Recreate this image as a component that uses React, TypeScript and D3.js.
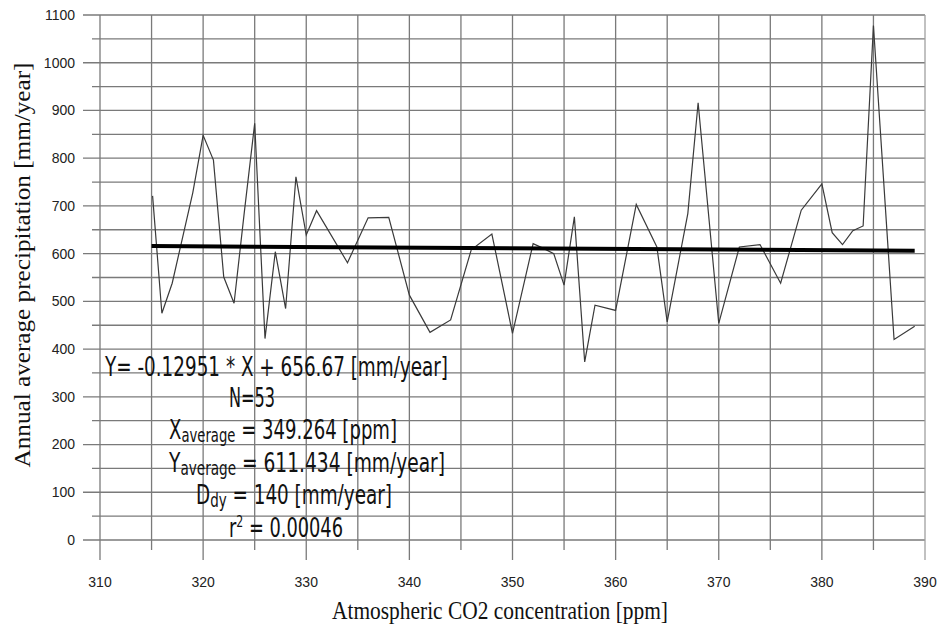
import React from "react";
import * as d3 from "d3";

// Data
const co2 = [
  315.1, 316.0, 317.0, 319.0, 320.0, 321.0, 322.0, 323.0, 324.0, 325.0,
  326.0, 327.0, 328.0, 329.0, 330.0, 331.0, 334.0, 336.0, 338.0, 340.0,
  342.0, 344.0, 346.0, 348.0, 350.0, 352.0, 353.0, 354.0, 355.0, 356.0,
  357.0, 358.0, 360.0, 362.0, 364.0, 365.0, 367.0, 368.0, 370.0, 372.0,
  374.0, 376.0, 378.0, 380.0, 381.0, 382.0, 383.0, 384.0, 385.0, 387.0,
  389.0,
];
const precipitation = [
  721, 475, 538, 728, 848, 796, 551, 496, 688, 873,
  422, 604, 485, 761, 639, 690, 581, 675, 676, 513,
  435, 461, 608, 641, 433, 621, 611, 600, 534, 677,
  373, 492, 481, 703, 614, 457, 684, 916, 454, 614,
  619, 538, 691, 746, 644, 619, 648, 658, 1078, 420,
  448,
];

const xTickLabels = [310, 320, 330, 340, 350, 360, 370, 380, 390];
const yTickLabels = [0, 100, 200, 300, 400, 500, 600, 700, 800, 900, 1000, 1100];
const xGridValues = d3.range(310, 391, 5);
const yGridValues = d3.range(0, 1101, 50);

const regSlope = -0.12951;
const regIntercept = 656.67;
const regXRange = [315, 389];

const xTitle = "Atmospheric CO2 concentration [ppm]";
const yTitle = "Annual average precipitation [mm/year]";
const eqText = "Y= -0.12951 * X + 656.67 [mm/year]";
const nText = "N=53";
const xAvgRest = " = 349.264 [ppm]";
const yAvgRest = " = 611.434 [mm/year]";
const ddyRest = " = 140 [mm/year]";
const r2Rest = " = 0.00046";

export default function App() {
  const W = 942;
  const H = 633;
  const x = d3.scaleLinear().domain([310, 390]).range([100, 925]);
  const y = d3.scaleLinear().domain([0, 1100]).range([540, 15]);

  const dataLine = d3
    .line<number>()
    .x((_, i) => x(co2[i]))
    .y((d) => y(d))(precipitation) as string;

  const regLine = d3
    .line<number>()
    .x((d) => x(d))
    .y((d) => y(regSlope * d + regIntercept))(regXRange) as string;

  const gridColor = "#7a7a7a";
  const annFont = "'DejaVu Sans Condensed', 'DejaVu Sans', sans-serif";
  const serif = "'Liberation Serif', 'Times New Roman', serif";
  const sans = "'Liberation Sans', Arial, sans-serif";

  return (
    <div style={{ position: "fixed", left: 0, top: 0, width: W, height: H, background: "#fff" }}>
      <svg width={W} height={H} style={{ display: "block" }}>
        <rect x={0} y={0} width={W} height={H} fill="#fff" />
        {/* horizontal grid */}
        {yGridValues.map((v) => {
          const major = v % 100 === 0;
          return (
            <line
              key={"h" + v}
              x1={major ? 83 : 92}
              x2={x(390)}
              y1={y(v)}
              y2={y(v)}
              stroke={gridColor}
              strokeWidth={1.3}
            />
          );
        })}
        {/* vertical grid */}
        {xGridValues.map((v) => {
          const major = v % 10 === 0;
          return (
            <line
              key={"v" + v}
              x1={x(v)}
              x2={x(v)}
              y1={y(1100)}
              y2={major ? 560 : 550}
              stroke={v === 390 ? "#a0a0a0" : gridColor}
              strokeWidth={1.3}
            />
          );
        })}
        {/* y tick labels */}
        {yTickLabels.map((v) => (
          <text
            key={"yl" + v}
            x={75}
            y={y(v)}
            dy="0.35em"
            textAnchor="end"
            fontFamily={sans}
            fontSize={14}
            fill="#222"
          >
            {v}
          </text>
        ))}
        {/* x tick labels */}
        {xTickLabels.map((v) => (
          <text
            key={"xl" + v}
            x={x(v)}
            y={587}
            textAnchor="middle"
            fontFamily={sans}
            fontSize={14}
            fill="#222"
          >
            {v}
          </text>
        ))}
        {/* data line */}
        <path d={dataLine} fill="none" stroke="#3a3a3a" strokeWidth={1.2} strokeLinejoin="miter" />
        {/* regression line */}
        <path d={regLine} fill="none" stroke="#000" strokeWidth={4} />

        {/* annotation */}
        <g fontFamily={annFont} fontSize={26} fill="#111">
          <text x={105} y={376} textLength={343} lengthAdjust="spacingAndGlyphs">
            {eqText}
          </text>
          <text x={229} y={407} textLength={46} lengthAdjust="spacingAndGlyphs">
            {nText}
          </text>
          <text x={169} y={439} textLength={228} lengthAdjust="spacingAndGlyphs">
            X
            <tspan fontSize={19} dy={3}>average</tspan>
            <tspan dy={-3}>{xAvgRest}</tspan>
          </text>
          <text x={169} y={472} textLength={276} lengthAdjust="spacingAndGlyphs">
            Y
            <tspan fontSize={19} dy={3}>average</tspan>
            <tspan dy={-3}>{yAvgRest}</tspan>
          </text>
          <text x={196} y={504} textLength={196} lengthAdjust="spacingAndGlyphs">
            D
            <tspan fontSize={19} dy={3}>dy</tspan>
            <tspan dy={-3}>{ddyRest}</tspan>
          </text>
          <text x={229} y={537} textLength={114} lengthAdjust="spacingAndGlyphs">
            r
            <tspan fontSize={16} dy={-10}>2</tspan>
            <tspan dy={10}>{r2Rest}</tspan>
          </text>
        </g>

        {/* axis titles */}
        <text
          x={500}
          y={619}
          textAnchor="middle"
          fontFamily={serif}
          fontSize={25}
          fill="#111"
          textLength={336}
          lengthAdjust="spacingAndGlyphs"
        >
          {xTitle}
        </text>
        <text
          transform="translate(30,265) rotate(-90)"
          textAnchor="middle"
          fontFamily={serif}
          fontSize={23}
          fill="#111"
          textLength={405}
          lengthAdjust="spacingAndGlyphs"
        >
          {yTitle}
        </text>
      </svg>
    </div>
  );
}
